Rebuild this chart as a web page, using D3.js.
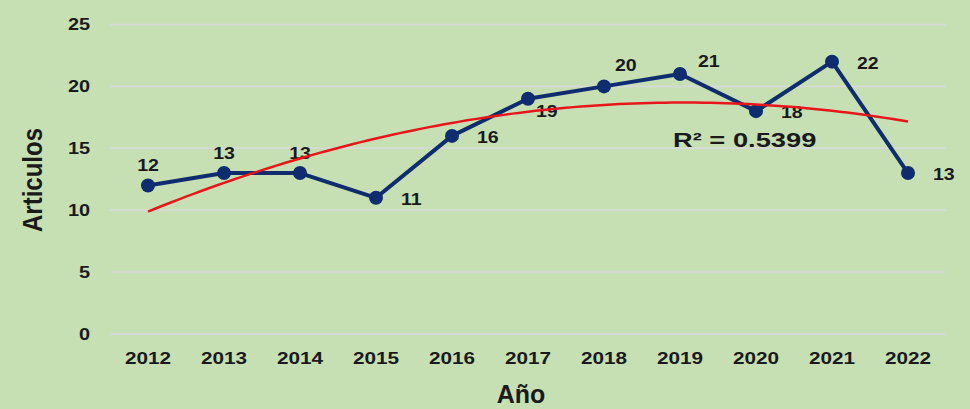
<!DOCTYPE html>
<html><head><meta charset="utf-8">
<script src="https://cdn.jsdelivr.net/npm/d3@7"></script>
<style>
html,body{margin:0;padding:0;background:#c6e0b4;}
svg{display:block;font-family:Arial,"Liberation Sans",sans-serif;}
</style></head><body>
<svg id="c" width="970" height="409"></svg>
<script>
const years = ["2012","2013","2014","2015","2016","2017","2018","2019","2020","2021","2022"];
const articulos = [12,13,13,11,16,19,20,21,18,22,13];
const yTicks = [0,5,10,15,20,25];
const r2Label = "R² = 0.5399";
const xTitle = "Año", yTitle = "Articulos";
// label placement keys (style only)
const labelPlace = ["above","above","above","right","right","below","aboveR","upR","right","right","right"];

const W=970,H=409;
const m={left:110,right:24};
const svg=d3.select("#c");
svg.append("rect").attr("width",W).attr("height",H).attr("fill","#c6e0b4");

const x=d3.scaleBand().domain(years).range([m.left,W-m.right]);
const y=d3.scaleLinear().domain([0,25]).range([334,24.5]);
const cx=d=>x(d)+x.bandwidth()/2;
const FONT="Arial,'Liberation Sans',sans-serif";

// grid
svg.append("g").selectAll("line").data(yTicks).join("line")
 .attr("x1",m.left).attr("x2",W-m.right)
 .attr("y1",d=>y(d)).attr("y2",d=>y(d))
 .attr("stroke","#d9d9d9").attr("stroke-width",1.5);

// y axis labels
const yAxis=d3.axisLeft(y).tickValues(yTicks).tickSize(0).tickPadding(0);
const gy=svg.append("g").attr("transform","translate(90,0)").call(yAxis);
gy.select(".domain").remove();
gy.selectAll("text").attr("font-size",17).attr("font-weight","bold").attr("fill","#1a1a1a")
  .attr("font-family",FONT).attr("transform","scale(1.17,1)");

// x axis labels
const xAxis=d3.axisBottom(x).tickSize(0).tickPadding(0);
const gx=svg.append("g").attr("transform","translate(0,364)").call(xAxis);
gx.select(".domain").remove();
gx.selectAll("text").attr("font-size",17).attr("font-weight","bold").attr("fill","#1a1a1a")
  .attr("font-family",FONT).attr("y",0).attr("dy",0).attr("transform","scale(1.22,1)");

// titles
svg.append("text").attr("x",521).attr("y",403).attr("text-anchor","middle")
 .attr("font-size",25).attr("font-weight","bold").attr("fill","#1a1a1a").text(xTitle);
svg.append("text").attr("transform","translate(42,180) rotate(-90) scale(1,1.15)").attr("text-anchor","middle")
 .attr("font-size",24).attr("font-weight","bold").attr("fill","#1a1a1a").text(yTitle);

// data line
const data=years.map((yr,i)=>({yr,v:articulos[i],p:labelPlace[i]}));
svg.append("path").datum(data)
 .attr("d",d3.line().x(d=>cx(d.yr)).y(d=>y(d.v)))
 .attr("fill","none").attr("stroke","#0f2d6e").attr("stroke-width",4).attr("stroke-linejoin","round");
svg.append("g").selectAll("circle").data(data).join("circle")
 .attr("cx",d=>cx(d.yr)).attr("cy",d=>y(d.v)).attr("r",7).attr("fill","#0f2d6e");

// data labels
const off={above:[0,-14,"middle"],right:[25,7,"start"],below:[8,18,"start"],aboveR:[11,-15,"start"],upR:[18,-7,"start"]};
svg.append("g").selectAll("text").data(data).join("text")
 .attr("transform",d=>`translate(${cx(d.yr)+off[d.p][0]},${y(d.v)+off[d.p][1]}) scale(1.15,1)`)
 .attr("text-anchor",d=>off[d.p][2])
 .attr("font-size",17).attr("font-weight","bold").attr("fill","#1a1a1a").text(d=>d.v);

// quadratic trendline (least squares from data)
const n=articulos.length, ts=articulos.map((_,i)=>i+1);
const S=k=>d3.sum(ts,t=>Math.pow(t,k));
const Sy=k=>d3.sum(ts,(t,i)=>Math.pow(t,k)*articulos[i]);
const A=[[S(0),S(1),S(2)],[S(1),S(2),S(3)],[S(2),S(3),S(4)]], B=[Sy(0),Sy(1),Sy(2)];
function solve(A,B){const M=A.map((r,i)=>[...r,B[i]]);const k=M.length;
 for(let i=0;i<k;i++){let p=i;for(let j=i+1;j<k;j++)if(Math.abs(M[j][i])>Math.abs(M[p][i]))p=j;[M[i],M[p]]=[M[p],M[i]];
  for(let j=i+1;j<k;j++){const f=M[j][i]/M[i][i];for(let c=i;c<=k;c++)M[j][c]-=f*M[i][c];}}
 const xs=new Array(k);for(let i=k-1;i>=0;i--){let s=M[i][k];for(let c=i+1;c<k;c++)s-=M[i][c]*xs[c];xs[i]=s/M[i][i];}return xs;}
const [c0,c1,c2]=solve(A,B);
const step=(cx(years[1])-cx(years[0]));
const tr=d3.range(1,n+0.001,0.1).map(t=>[cx(years[0])+(t-1)*step,y(c0+c1*t+c2*t*t)]);
svg.append("path").attr("d",d3.line()(tr))
 .attr("fill","none").attr("stroke","#e8161b").attr("stroke-width",2.5);

svg.append("text").attr("transform","translate(673,147) scale(1.3,1)").attr("font-size",21).attr("font-weight","bold")
 .attr("fill","#1a1a1a").text(r2Label);
</script></body></html>
